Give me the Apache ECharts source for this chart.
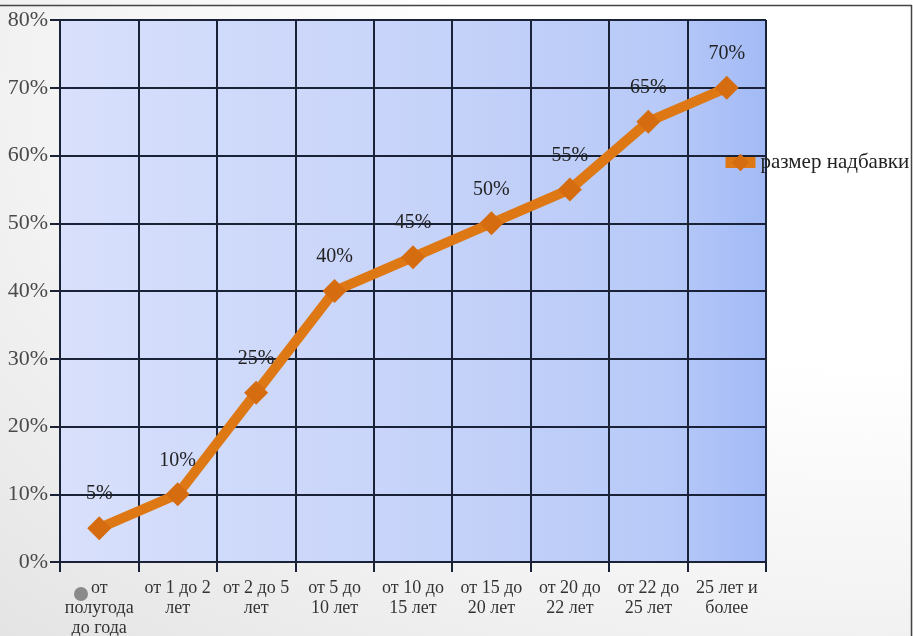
<!DOCTYPE html>
<html><head><meta charset="utf-8">
<script src="https://cdn.jsdelivr.net/npm/echarts@6/dist/echarts.min.js"></script>
<style>
html,body{margin:0;padding:0;width:913px;height:636px;overflow:hidden;
background:radial-gradient(ellipse at 95% 15%, #ffffff 35%, #f4f4f4 65%, #e4e4e4 100%);}
#c{width:913px;height:636px;}
</style></head><body><div id="c"></div>
<script>
const categories = ['от\nполугода\nдо года','от 1 до 2\nлет','от 2 до 5\nлет','от 5 до\n10 лет','от 10 до\n15 лет','от 15 до\n20 лет','от 20 до\n22 лет','от 22 до\n25 лет','25 лет и\nболее'];
const values = [5, 10, 25, 40, 45, 50, 55, 65, 70];
const seriesName = 'размер надбавки';
const yTicks = {min: 0, max: 80, interval: 10};

const chart = echarts.init(document.getElementById('c'));
const serif = 'Liberation Serif, DejaVu Serif, serif';
const gridColor = '#1a2238';
chart.setOption({
  animation: false,
  textStyle: {fontFamily: serif},
  grid: {left: 60, right: 147, top: 20, bottom: 74, show: true, borderWidth: 0,
    outerBoundsMode: 'none', containLabel: false,
    backgroundColor: new echarts.graphic.LinearGradient(0, 0, 1, 0, [
      {offset: 0, color: '#d8e0fb'},
      {offset: 0.55, color: '#c5d2f9'},
      {offset: 0.85, color: '#b8caf8'},
      {offset: 1, color: '#a3baf6'}])},
  legend: {left: 720, top: 152, padding: 0, itemWidth: 30, itemHeight: 22, itemGap: 0,
    lineStyle: {width: 11, color: '#de7814'},
    itemStyle: {color: '#d56c10'},
    textStyle: {fontFamily: serif, fontSize: 21, color: '#222'},
    data: [seriesName]},
  xAxis: {type: 'category', data: categories, boundaryGap: true,
    axisLine: {lineStyle: {color: gridColor, width: 2}},
    axisTick: {show: true, length: 10, lineStyle: {color: gridColor, width: 2}},
    splitLine: {show: true, lineStyle: {color: gridColor, width: 2}},
    axisLabel: {interval: 0, fontFamily: serif, fontSize: 18, color: '#333', lineHeight: 20, margin: 16}},
  yAxis: {type: 'value', min: yTicks.min, max: yTicks.max, interval: yTicks.interval,
    axisLine: {show: true, lineStyle: {color: gridColor, width: 2}},
    axisTick: {show: true, length: 10, lineStyle: {color: gridColor, width: 2}},
    splitLine: {show: true, lineStyle: {color: gridColor, width: 2}},
    axisLabel: {formatter: '{value}%', fontFamily: serif, fontSize: 22, color: '#4a4a4a', margin: 12}},
  series: [{
    name: seriesName, type: 'line', data: values,
    lineStyle: {color: '#de7814', width: 10},
    symbol: 'diamond', symbolSize: 24,
    itemStyle: {color: '#d56c10'},
    label: {show: true, position: 'top', distance: 12, formatter: '{c}%',
      fontFamily: serif, fontSize: 20, color: '#222'}
  }],
  graphic: [
    {type: 'line', shape: {x1: 0, y1: 5.5, x2: 912, y2: 5.5}, style: {stroke: '#444', lineWidth: 1.5}, z: 100},
    {type: 'line', shape: {x1: 911.5, y1: 5, x2: 911.5, y2: 636}, style: {stroke: '#444', lineWidth: 1.5}, z: 100},
    {type: 'circle', shape: {cx: 81, cy: 594, r: 7}, style: {fill: '#8a8a8a'}, z: 100}
  ]
});
</script></body></html>
